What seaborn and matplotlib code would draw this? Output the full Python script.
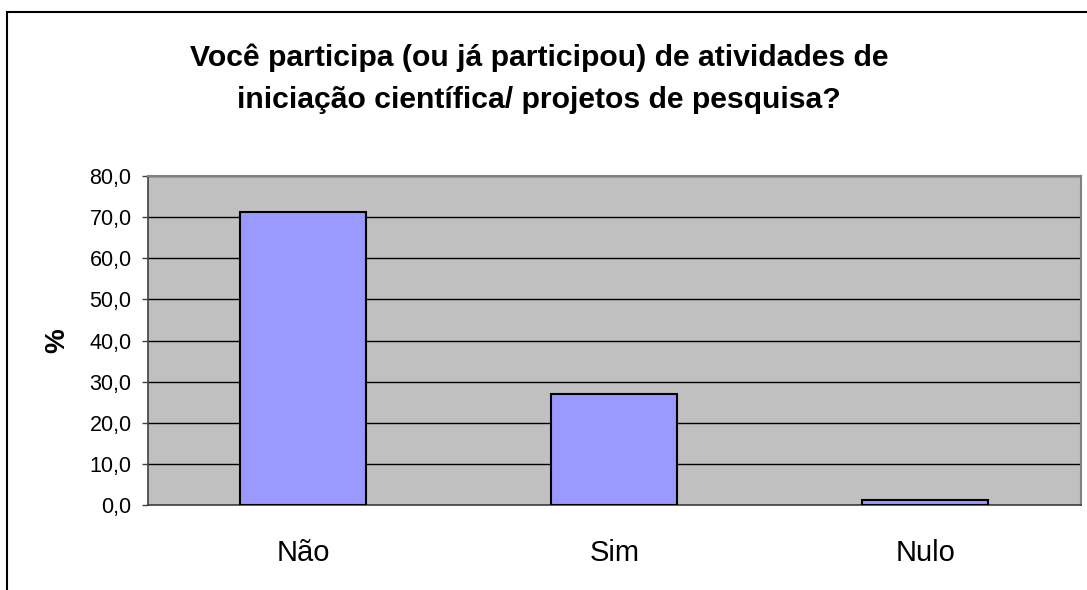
import matplotlib
matplotlib.use("Agg")
import matplotlib.pyplot as plt
import matplotlib.patches as mpatches
import seaborn as sns

# dados
categorias = ["Não", "Sim", "Nulo"]
percentuais = [71.3, 27.1, 1.3]
y_ticks = [0, 10, 20, 30, 40, 50, 60, 70, 80]
titulo = "Você participa (ou já participou) de atividades de\niniciação científica/ projetos de pesquisa?"

sns.set_theme(style="white")
plt.rcParams["font.family"] = ["Liberation Sans", "DejaVu Sans"]
plt.rcParams["text.color"] = "black"
plt.rcParams["axes.labelcolor"] = "black"

fig = plt.figure(figsize=(10.87, 5.90), dpi=100)
ax = fig.add_axes([0.1357, 0.1436, 0.8588, 0.5581])

sns.barplot(x=categorias, y=percentuais, color="#9999FF", saturation=1,
            edgecolor="black", linewidth=1.5, width=0.405, ax=ax, zorder=3)

ax.set_facecolor("#C0C0C0")
ax.set_xlim(-0.5, 2.5)
ax.set_ylim(0, 80)
ax.set_yticks(y_ticks)
ax.set_yticklabels([f"{v:.1f}".replace(".", ",") for v in y_ticks], fontsize=15.5)
ax.yaxis.grid(True, color="black", linewidth=1, zorder=1)
ax.set_axisbelow(True)

# marcas do eixo x nos limites das categorias
ax.set_xticks([-0.5, 0.5, 1.5, 2.5], minor=True)
ax.tick_params(axis="x", which="major", length=0, labelsize=21, pad=24, labelcolor="black")
ax.tick_params(axis="x", which="minor", length=7, width=1, color="#404040", direction="out")
ax.tick_params(axis="y", length=4.5, width=1, color="#404040", direction="out", pad=7,
               labelcolor="black")
ax.tick_params(left=True, bottom=True)

ax.set_xlabel("")
ax.set_ylabel("%", fontsize=20, fontweight="bold", labelpad=14)

for s in ["left", "bottom"]:
    ax.spines[s].set_color("#404040")
    ax.spines[s].set_linewidth(1.2)
for s in ["top", "right"]:
    ax.spines[s].set_color("#808080")
    ax.spines[s].set_linewidth(1.5)

fig.text(0.496, 0.8665, titulo, ha="center", va="center", fontsize=21.7,
         fontweight="bold", linespacing=1.66)

# moldura externa do gráfico
borda = mpatches.Rectangle((7 / 1087, -0.1), 1.2, 0.1 + (590 - 12) / 590,
                           transform=fig.transFigure, fill=False,
                           edgecolor="black", linewidth=1.5)
fig.patches.append(borda)

fig.savefig("out.png", dpi=100)
